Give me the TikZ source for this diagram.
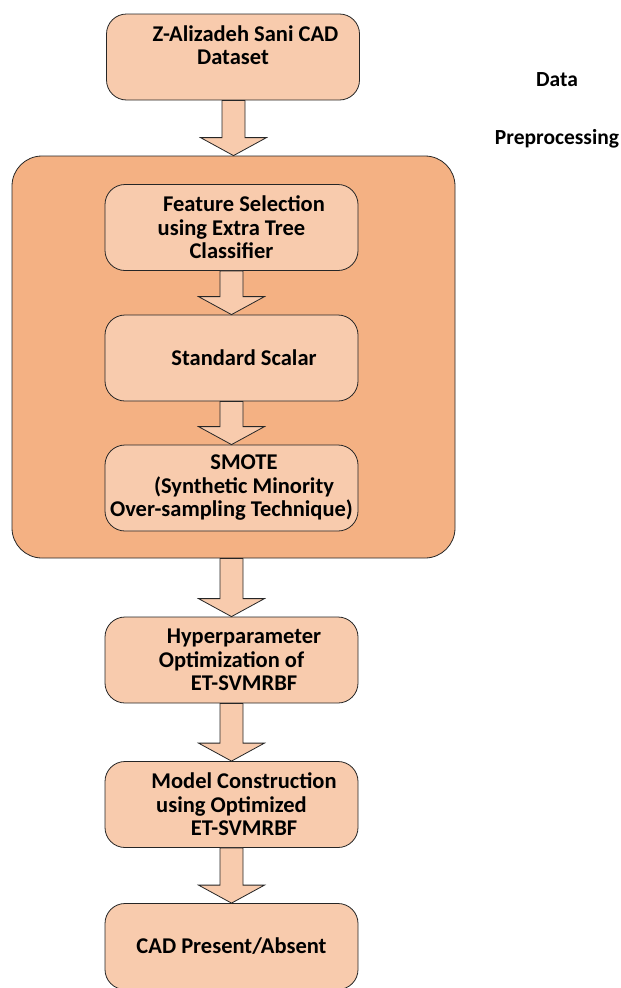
\documentclass[tikz,border=0pt]{standalone}
\usepackage{fontspec}
\setmainfont{Carlito}
\usetikzlibrary{calc}
\definecolor{StageFill}{HTML}{F8CBAD}
\definecolor{GroupFill}{HTML}{F4B183}
\definecolor{EdgeGray}{HTML}{262626}
\newcommand{\lead}{\hspace*{25pt}}
\begin{document}
\begin{tikzpicture}[x=1pt,y=-1pt,
    stage/.style={
      draw=EdgeGray,
      fill=StageFill,
      line width=0.8pt,
      minimum width=253pt,
      minimum height=86pt,
      rounded corners=20pt,
      inner sep=0pt,
      font=\fontsize{22.5}{23.5}\selectfont\bfseries,
      align=center
    },
    group/.style={
      draw=EdgeGray,
      fill=GroupFill,
      line width=0.8pt,
      minimum width=443pt,
      minimum height=402pt,
      rounded corners=30pt
    },
    fatarr/.style={
      draw=EdgeGray,
      fill=StageFill,
      line width=0.8pt,
      line join=miter,
      to path={let \p1=(\tikztostart), \p2=(\tikztotarget) in
        (\x2-11.5pt,\y1) -- (\x2+11.5pt,\y1) -- (\x2+11.5pt,\y2+18pt)
        -- (\x2+33pt,\y2+18pt) -- (\x2,\y2) -- (\x2-33pt,\y2+18pt)
        -- (\x2-11.5pt,\y2+18pt) -- cycle}
    },
    side/.style={
      font=\fontsize{21.5}{23.5}\selectfont\bfseries,
      align=center
    }
  ]
  \useasboundingbox (0,0) rectangle (621,988);

  \node[group] (prep) at (233.5,357) {};

  \node[stage] (ds)  at (233,57)
    {\lead Z-Alizadeh Sani CAD\\Dataset\\\mbox{}};
  \node[stage] (fs)  at (231.5,227.5)
    {\lead Feature Selection\\using Extra Tree\\Classifier};
  \node[stage] (ss)  at (231.5,358)
    {\lead Standard Scalar};
  \node[stage] (sm)  at (231.5,488)
    {\lead SMOTE\\\lead (Synthetic Minority\\Over-sampling Technique)};
  \node[stage] (hp)  at (231.5,660)
    {\lead Hyperparameter\\Optimization of\\\lead ET-SVMRBF};
  \node[stage] (mc)  at (231.5,804.5)
    {\lead Model Construction\\using Optimized\\\lead ET-SVMRBF};
  \node[stage] (cad) at (231.5,946.5)
    {CAD Present/Absent};

  \foreach \a/\b in {ds/prep, fs/ss, ss/sm, prep/hp, hp/mc, mc/cad}
    \draw[fatarr] (\a.south) to (\b.north);

  % Group label
  \node[side] (lbl) at (557,110) {Data\\[34.5pt]Preprocessing};

\end{tikzpicture}
\end{document}
